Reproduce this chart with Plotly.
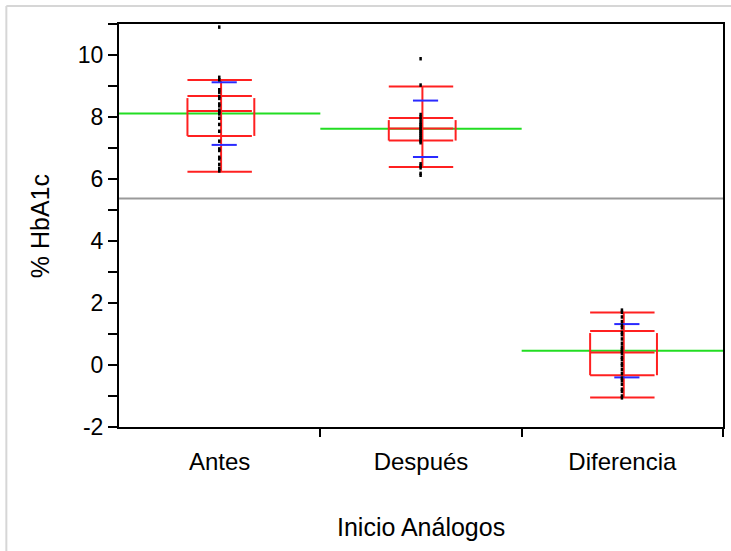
import plotly.graph_objects as go

# ---------------- data ----------------
groups = ["Antes", "Después", "Diferencia"]

antes = [10.9, 9.28, 9.2, 8.88, 8.8, 8.66, 8.6, 8.42, 8.36, 8.22, 8.16, 8.1, 7.96,
         7.76, 7.54, 7.22, 6.97, 6.92, 6.7, 6.65, 6.47, 6.34, 6.26]
despues = [9.88, 9.03, 8.08, 8.0, 7.92, 7.82, 7.76, 7.7, 7.64, 7.58, 7.52, 7.46,
           7.4, 7.34, 7.28, 7.22, 7.17, 6.49, 6.42, 6.36, 6.18, 6.12]
diferencia = [1.77, 1.7, 1.55, 1.4, 1.28, 1.2, 1.05, 0.98, 0.84, 0.7, 0.58, 0.5,
              0.44, 0.38, 0.25, 0.18, 0.05, -0.02, -0.15, -0.28, -0.42, -0.5,
              -0.62, -0.78, -0.85, -1.0, -1.06]

means = [8.11, 7.62, 0.46]
sds = [1.01, 0.91, 0.86]
medians = [8.19, 7.63, 0.40]
q1 = [7.39, 7.24, -0.33]
q3 = [8.68, 7.97, 1.10]
cap_lo = [6.23, 6.39, -1.05]
cap_hi = [9.19, 8.98, 1.69]
grand_mean = 5.37

y_ticks = [-2, 0, 2, 4, 6, 8, 10]
y_ticktext = ["-2", "0", "2", "4", "6", "8", "10"]

# ---------------- styles ----------------
FONT = "Liberation Sans, Arial, Helvetica, sans-serif"
RED = "#ff2020"
GREEN = "#22dd22"
BLUE = "#2a2aff"
GRAY = "#9a9a9a"
HW = 0.16          # half width of box / caps
series = [antes, despues, diferencia]
centers = [i + 0.5 for i in range(len(groups))]
ncat = len(groups)

fig = go.Figure()

# grand mean line
fig.add_trace(go.Scatter(x=[0, ncat], y=[grand_mean, grand_mean], mode="lines",
                         line=dict(color=GRAY, width=2), hoverinfo="skip", showlegend=False))

# group mean lines (green), spanning each group's band
gx, gy = [], []
for i, m in enumerate(means):
    gx += [i, i + 1, None]
    gy += [m, m, None]
fig.add_trace(go.Scatter(x=gx, y=gy, mode="lines", line=dict(color=GREEN, width=2),
                         hoverinfo="skip", showlegend=False))

# red quantile boxes
rx, ry = [], []
for i, c in enumerate(centers):
    for v in (cap_hi[i], q3[i], medians[i], q1[i], cap_lo[i]):
        rx += [c - HW, c + HW, None]
        ry += [v, v, None]
    rx += [c - HW, c - HW, None, c + HW + 0.012, c + HW + 0.012, None]
    ry += [q3[i] - 0.07, q1[i], None, q3[i] - 0.07, q1[i], None]
    rx += [c + 0.007, c + 0.007, None]
    ry += [cap_lo[i], cap_hi[i], None]
fig.add_trace(go.Scatter(x=rx, y=ry, mode="lines", line=dict(color=RED, width=2),
                         hoverinfo="skip", showlegend=False))

# blue mean +/- sd marks
bx, by = [], []
for i, c in enumerate(centers):
    for v in (means[i] + sds[i], means[i] - sds[i]):
        bx += [c - 0.04, c + 0.085, None]
        by += [v, v, None]
fig.add_trace(go.Scatter(x=bx, y=by, mode="lines", line=dict(color=BLUE, width=2),
                         hoverinfo="skip", showlegend=False))

# data points
for i, vals in enumerate(series):
    fig.add_trace(go.Scatter(x=[centers[i] - 0.002] * len(vals), y=vals, mode="markers",
                             marker=dict(symbol="line-ns", size=2.5,
                                         line=dict(width=2.5, color="black")),
                             hoverinfo="skip", showlegend=False))

# invisible trace on the overlay axis (for boundary ticks)
fig.add_trace(go.Scatter(x=[0], y=[0], xaxis="x2", mode="markers",
                         marker=dict(opacity=0), hoverinfo="skip", showlegend=False))

fig.update_layout(
    width=731, height=551,
    margin=dict(l=119, r=6, t=24, b=124),
    paper_bgcolor="white", plot_bgcolor="white",
    font=dict(family=FONT, size=22, color="black"),
    xaxis=dict(range=[0, ncat], tickmode="array", tickvals=centers, ticktext=groups,
               ticks="outside", ticklen=0, ticklabelstandoff=12,
               showline=True, linecolor="black",
               linewidth=2, mirror=True, showgrid=False, zeroline=False,
               tickfont=dict(size=24, family=FONT, color="black")),
    xaxis2=dict(range=[0, ncat], overlaying="x", anchor="y", side="bottom",
                tickmode="array", tickvals=list(range(1, ncat + 1)),
                ticks="outside", ticklen=9, tickwidth=2, tickcolor="black",
                showticklabels=False, showline=False, showgrid=False, zeroline=False),
    yaxis=dict(range=[-2, 11], tickmode="array", tickvals=y_ticks, ticktext=y_ticktext,
               ticks="outside", ticklen=9, tickwidth=2, tickcolor="black",
               minor=dict(tickmode="linear", tick0=-1, dtick=2, ticks="outside",
                          ticklen=9, tickwidth=2, tickcolor="black"),
               showline=True, linecolor="black", linewidth=2, mirror=True,
               showgrid=False, zeroline=False,
               tickfont=dict(size=23, family=FONT, color="black")),
    annotations=[
        dict(text="% HbA1c", xref="paper", yref="paper", x=-0.1304, y=0.4988,
             textangle=-90, showarrow=False, xanchor="center", yanchor="middle",
             font=dict(size=25, family=FONT, color="black")),
        dict(text="Inicio Análogos", xref="paper", yref="paper", x=0.5, y=-0.248,
             showarrow=False, xanchor="center", yanchor="middle",
             font=dict(size=25, family=FONT, color="black")),
    ],
    shapes=[
        dict(type="line", xref="paper", yref="paper", x0=-0.1865, x1=1.02,
             y0=1.0447, y1=1.0447, line=dict(color="#d6d6d6", width=2)),
        dict(type="line", xref="paper", yref="paper", x0=-0.1865, x1=-0.1865,
             y0=1.0447, y1=-0.32, line=dict(color="#d6d6d6", width=2)),
    ],
)

fig.write_html("out.html")
